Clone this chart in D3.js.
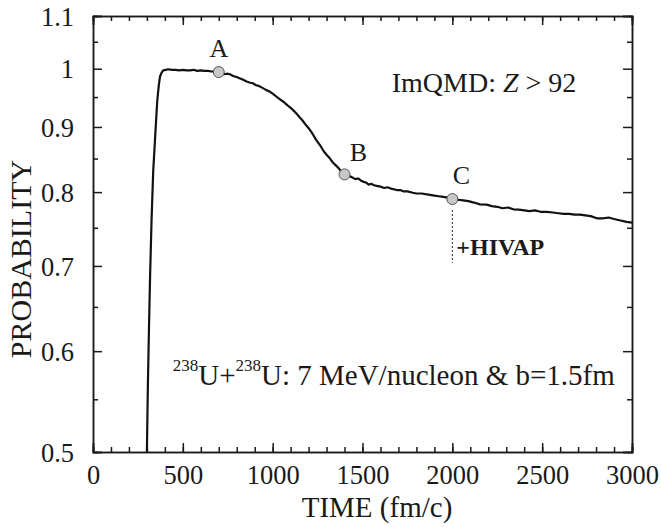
<!DOCTYPE html>
<html>
<head>
<meta charset="utf-8">
<script src="https://cdnjs.cloudflare.com/ajax/libs/d3/7.8.5/d3.min.js"></script>
<style>
  body { margin: 0; background: #fff; }
  svg text { font-family: "Liberation Serif", "Times New Roman", serif; fill: #1a1a1a; }
  .axis path, .axis line { stroke: #1a1a1a; stroke-width: 1.5; }
</style>
</head>
<body>
<div id="chart"></div>
<script>
// time (fm/c) and probability
const times = [300, 303, 306, 312, 318, 326, 335, 345, 352, 358, 366, 373, 382, 391, 405, 419,
  440, 460, 480, 500, 520, 540, 560, 580, 600, 620, 640, 660, 680, 700,
  715, 730, 745, 762, 780, 800, 815, 830, 855, 875, 890, 905, 925, 948, 965, 980, 1000,
  1020, 1041, 1060, 1075, 1090, 1110, 1133, 1150, 1165, 1180, 1200, 1215, 1226, 1240, 1255,
  1270, 1285, 1300, 1319, 1335, 1350, 1365, 1380, 1400, 1420, 1440, 1460, 1475, 1490, 1505,
  1520, 1535, 1550, 1565, 1580, 1600, 1620, 1640, 1660, 1690, 1710, 1730, 1750, 1780, 1800,
  1830, 1850, 1876, 1900, 1925, 1950, 1975, 2000, 2030, 2060, 2090, 2120, 2154, 2190, 2220,
  2250, 2280, 2310, 2340, 2370, 2400, 2430, 2460, 2490, 2525, 2560, 2590, 2620, 2650, 2680,
  2711, 2740, 2770, 2804, 2840, 2870, 2900, 2935, 2970, 3000];
const probability = [0.5, 0.535, 0.57, 0.63, 0.69, 0.761, 0.83, 0.879, 0.915, 0.945, 0.97, 0.986, 0.993, 0.997, 0.998, 0.999,
  0.998, 0.998, 0.997, 0.998, 0.997, 0.997, 0.998, 0.996, 0.997, 0.996, 0.996, 0.995, 0.995, 0.994,
  0.993, 0.990, 0.991, 0.990, 0.987, 0.985, 0.983, 0.981, 0.977, 0.975, 0.974, 0.971, 0.969, 0.965, 0.962, 0.960, 0.956,
  0.951, 0.946, 0.942, 0.938, 0.934, 0.929, 0.922, 0.916, 0.911, 0.905, 0.898, 0.892, 0.887, 0.880, 0.874,
  0.868, 0.861, 0.856, 0.850, 0.844, 0.840, 0.836, 0.831, 0.827, 0.824, 0.822, 0.819, 0.820, 0.817, 0.815,
  0.814, 0.811, 0.812, 0.810, 0.809, 0.808, 0.806, 0.807, 0.805, 0.803, 0.803, 0.801, 0.801, 0.799, 0.798,
  0.798, 0.797, 0.796, 0.795, 0.794, 0.793, 0.792, 0.790, 0.789, 0.788, 0.787, 0.785, 0.7825, 0.782, 0.780,
  0.779, 0.777, 0.778, 0.7755, 0.775, 0.774, 0.773, 0.774, 0.772, 0.772, 0.771, 0.770, 0.769, 0.769, 0.768,
  0.768, 0.767, 0.766, 0.763, 0.763, 0.764, 0.762, 0.760, 0.758, 0.757];

const markerNames = ["A", "B", "C"];
const markerTimes = [700, 1400, 2000];
const markerProbs = [0.994, 0.826, 0.790];

const xTicks = [0, 500, 1000, 1500, 2000, 2500, 3000];
const xMinorTicks = d3.range(0, 3001, 100);
const yTicks = [0.5, 0.6, 0.7, 0.8, 0.9, 1.0, 1.1];
const yMinorTicks = [0.55, 0.65, 0.75, 0.85, 0.95, 1.05];

const width = 661, height = 527;
const margin = { top: 16, right: 29, bottom: 75, left: 93 };
const w = width - margin.left - margin.right;
const h = height - margin.top - margin.bottom;

const svg = d3.select("#chart").append("svg")
    .attr("width", width)
    .attr("height", height);

const x = d3.scaleLinear().domain([0, 3000]).range([0, w]);
const y = d3.scaleLog().domain([0.5, 1.1]).range([h, 0]);

const g = svg.append("g").attr("transform", `translate(${margin.left},${margin.top})`);

g.append("clipPath").attr("id", "plot-clip")
    .append("rect").attr("width", w).attr("height", h);

// axes: ticks point inwards on all four sides
function addAxis(axis, transform, cls) {
    const a = g.append("g").attr("class", "axis " + cls).attr("transform", transform).call(axis);
    return a;
}

const fmt = d => d3.format("")(d);

addAxis(d3.axisBottom(x).tickValues(xMinorTicks).tickSize(-5).tickFormat(""), `translate(0,${h})`, "xminor");
const xb = addAxis(d3.axisBottom(x).tickValues(xTicks).tickSize(-9).tickPadding(32 - 19).tickFormat(fmt), `translate(0,${h})`, "x");
addAxis(d3.axisTop(x).tickValues(xMinorTicks).tickSize(-5).tickFormat(""), "translate(0,0)", "xminor");
addAxis(d3.axisTop(x).tickValues(xTicks).tickSize(-9).tickFormat(""), "translate(0,0)", "xtop");

addAxis(d3.axisLeft(y).tickValues(yMinorTicks).tickSize(-5).tickFormat(""), "translate(0,0)", "yminor");
const yl = addAxis(d3.axisLeft(y).tickValues(yTicks).tickSize(-9).tickPadding(19).tickFormat(d => d === 1 ? "1" : d3.format(".1f")(d)), "translate(0,0)", "y");
addAxis(d3.axisRight(y).tickValues(yMinorTicks).tickSize(-5).tickFormat(""), `translate(${w},0)`, "yminor");
addAxis(d3.axisRight(y).tickValues(yTicks).tickSize(-9).tickFormat(""), `translate(${w},0)`, "yright");

g.selectAll(".axis .tick text")
    .style("font-size", "26.5px")
    .style("font-family", '"Liberation Serif", "Times New Roman", serif')
    .attr("fill", "#1a1a1a");
xb.selectAll(".tick text").attr("dy", "0.71em");
yl.selectAll(".tick text").attr("dy", "0.35em");

// curve
const line = d3.line()
    .x((d, i) => x(times[i]))
    .y((d, i) => y(probability[i]));

g.append("path")
    .datum(probability)
    .attr("clip-path", "url(#plot-clip)")
    .attr("fill", "none")
    .attr("stroke", "#111")
    .attr("stroke-width", 2.2)
    .attr("stroke-linejoin", "round")
    .attr("d", line);

// dotted drop at C
g.append("line")
    .attr("x1", x(2000)).attr("x2", x(2000))
    .attr("y1", y(markerProbs[2]) + 11).attr("y2", y(markerProbs[2]) + 64)
    .attr("stroke", "#222")
    .attr("stroke-width", 1)
    .attr("stroke-dasharray", "2,2");

// markers
g.selectAll("circle.mark")
    .data(markerTimes)
    .enter()
    .append("circle")
    .attr("class", "mark")
    .attr("cx", d => x(d))
    .attr("cy", (d, i) => y(markerProbs[i]))
    .attr("r", 5.5)
    .attr("fill", "#c8c8c8")
    .attr("stroke", "#555")
    .attr("stroke-width", 1);

const labelDx = [0, 14, 9];
const labelDy = [-15, -13, -15];
g.selectAll("text.mark-label")
    .data(markerNames)
    .enter()
    .append("text")
    .attr("class", "mark-label")
    .attr("x", (d, i) => x(markerTimes[i]) + labelDx[i])
    .attr("y", (d, i) => y(markerProbs[i]) + labelDy[i])
    .attr("text-anchor", "middle")
    .style("font-size", "26px")
    .text(d => d);

// +HIVAP
g.append("text")
    .attr("x", x(2000) + 4)
    .attr("y", 255 - margin.top)
    .style("font-size", "24px")
    .style("font-weight", "bold")
    .text("+HIVAP");

// ImQMD label
const imq = g.append("text")
    .attr("x", 391.7 - margin.left)
    .attr("y", 91.7 - margin.top)
    .style("font-size", "28px");
imq.append("tspan").text("ImQMD: ");
imq.append("tspan").style("font-style", "italic").text("Z");
imq.append("tspan").text(" > 92");

// reaction label
const rx = g.append("text")
    .attr("x", 172.7 - margin.left)
    .attr("y", 385 - margin.top)
    .style("font-size", "29px");
rx.append("tspan").style("font-size", "17px").attr("dy", -14).text("238");
rx.append("tspan").attr("dy", 14).text("U+");
rx.append("tspan").style("font-size", "17px").attr("dy", -14).text("238");
rx.append("tspan").attr("dy", 14).text("U: 7 MeV/nucleon & b=1.5fm");

// axis titles
svg.append("text")
    .attr("x", 377)
    .attr("y", 517)
    .attr("text-anchor", "middle")
    .style("font-size", "29px")
    .text("TIME (fm/c)");

svg.append("text")
    .attr("transform", "translate(31,259) rotate(-90)")
    .attr("text-anchor", "middle")
    .style("font-size", "30px")
    .text("PROBABILITY");
</script>
</body>
</html>
